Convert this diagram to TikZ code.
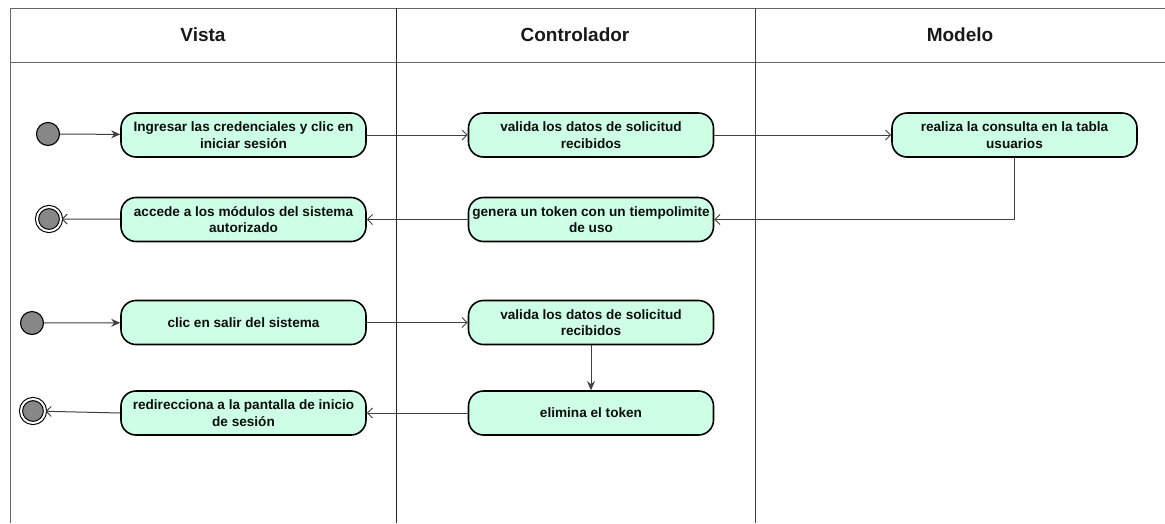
\documentclass[tikz,border=0pt]{standalone}
\usepackage{fontspec}
\setmainfont{Liberation Sans}
\usetikzlibrary{arrows.meta, positioning, calc}

\definecolor{mint}{RGB}{204,255,230}
\definecolor{linegray}{RGB}{64,64,64}

\begin{document}
\begin{tikzpicture}[x=1pt, y=-1pt, line join=round,
  lane/.style = {draw=black!60, line width=1pt},
  head/.style = {font=\fontsize{19}{22}\selectfont\bfseries, text=black!90},
  action/.style = {draw, line width=1.6pt, fill=mint, rounded corners=15pt,
    minimum width=245pt, minimum height=44pt, inner sep=1pt, align=center,
    font=\fontsize{13.6}{16.5}\selectfont\bfseries, text=black!95},
  start/.style = {circle, draw, line width=1.1pt, fill=black!47, minimum size=23pt, inner sep=0pt},
  stop/.style = {circle, draw, line width=1.1pt, fill=black!47, double, double distance=2pt,
    minimum size=24pt, inner sep=0pt},
  flow/.style = {draw=linegray, line width=1pt, -{Straight Barb[length=5pt, width=10pt]}},
  solid/.style = {draw=linegray, line width=1pt, -{Stealth[length=9pt, width=8pt]}}]
  \useasboundingbox (0,0) rectangle (1165,523);
  % swimlanes
  \draw[lane] (1165,8) -- (10,8) -- (10,523);
  \draw[lane] (10,62) -- (1165,62);
  \draw[lane, draw=black!85] (396,8) -- (396,523);
  \draw[lane, draw=black!75] (755,8) -- (755,523);
  \node[head] (vista) at (203,35) {Vista};
  \node[head] (controlador) at (575,35) {Controlador};
  \node[head] (modelo) at (960,35) {Modelo};
  % login
  \node[start] (ini1) at (48,134) {};
  \node[action] (ingresar) at (243.5,135) {Ingresar las credenciales y clic en\\iniciar sesión};
  \node[action] (valida1) at (591,135) {valida los datos de solicitud\\recibidos};
  \node[action] (consulta) at (1014.5,135) {realiza la consulta en la tabla\\usuarios};
  \node[action] (genera) at (591,219.5) {genera un token con un tiempolimite\\de uso};
  \node[action] (accede) at (243.5,219.5) {accede a los módulos del  sistema\\autorizado};
  \node[stop] (fin1) at (49,219) {};
  % logout
  \node[start] (ini2) at (32,323) {};
  \node[action] (salir) at (243.5,322.5) {clic en salir del sistema};
  \node[action] (valida2) at (591,322.5) {valida los datos  de solicitud\\recibidos};
  \node[action] (elimina) at (591,413) {elimina el token};
  \node[action] (redirige) at (243.5,413) {redirecciona a la pantalla de inicio\\de sesión};
  \node[stop] (fin2) at (33,411) {};
  % flows
  \draw[solid] (ini1) -- (ingresar);
  \draw[flow] (ingresar) -- (valida1);
  \draw[flow] (valida1) -- (consulta);
  \draw[flow] (consulta.south) |- (genera.east);
  \draw[flow] (genera) -- (accede);
  \draw[flow] (accede) -- (fin1);
  \draw[solid] (ini2) -- (salir);
  \draw[flow] (salir) -- (valida2);
  \draw[solid] (valida2) -- (elimina);
  \draw[flow] (elimina) -- (redirige);
  \draw[flow] (redirige.west) -- (fin2);
\end{tikzpicture}
\end{document}
